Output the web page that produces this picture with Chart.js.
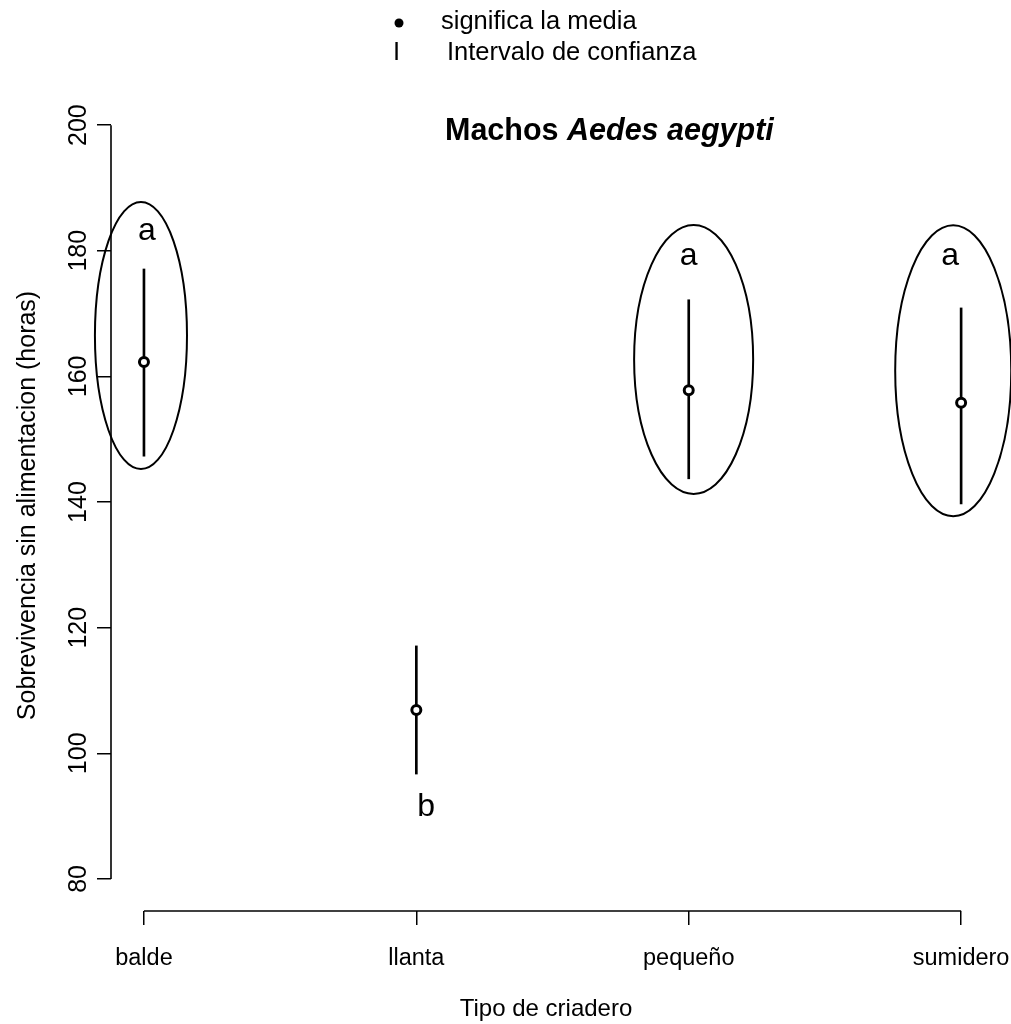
<!DOCTYPE html>
<html><head><meta charset="utf-8">
<script src="https://cdn.jsdelivr.net/npm/chart.js@4.4.1/dist/chart.umd.min.js"></script>
<style>html,body{margin:0;padding:0;background:#fff}</style>
</head><body><canvas id="c" width="1011" height="1024"></canvas>
<script>
// ---- data ----
const categories = ['balde', 'llanta', 'pequeño', 'sumidero'];
const meanValues = [162.3, 106.9, 157.8, 155.8];
const ciLower = [147.3, 96.7, 143.7, 139.7];
const ciUpper = [177.1, 117.1, 172.2, 170.9];
const yTickValues = [80, 100, 120, 140, 160, 180, 200];
// group letters (annotation), in data units
const groupLetters = ['a', 'b', 'a', 'a'];
const letterX = [1.011, 2.036, 3.0, 3.96];
const letterY = [181.7, 90.0, 177.7, 177.7];
// hand-drawn ellipses (annotation), in data units
const ellipseCX = [0.989, 3.018, 3.971];
const ellipseCY = [166.5, 162.7, 160.9];
const ellipseRX = [0.169, 0.2185, 0.213];
const ellipseRY = [21.25, 21.4, 23.16];

const FONT = '"Liberation Sans", Arial, Helvetica, sans-serif';

const decor = {
  id: 'decor',
  afterDraw(chart) {
    const { ctx, chartArea, scales: { x, y } } = chart;
    ctx.save();
    ctx.strokeStyle = '#000';
    ctx.fillStyle = '#000';
    ctx.lineWidth = 1.6;
    // y axis line (between first and last tick)
    ctx.beginPath();
    ctx.moveTo(chartArea.left, y.getPixelForValue(yTickValues[0]));
    ctx.lineTo(chartArea.left, y.getPixelForValue(yTickValues[yTickValues.length - 1]));
    ctx.stroke();
    // x axis line
    ctx.beginPath();
    ctx.moveTo(x.getPixelForValue(1), chartArea.bottom);
    ctx.lineTo(x.getPixelForValue(categories.length), chartArea.bottom);
    ctx.stroke();
    // ellipses
    ctx.lineWidth = 2;
    for (let i = 0; i < ellipseCX.length; i++) {
      const cx = x.getPixelForValue(ellipseCX[i]);
      const cy = y.getPixelForValue(ellipseCY[i]);
      const rx = Math.abs(x.getPixelForValue(ellipseCX[i] + ellipseRX[i]) - cx);
      const ry = Math.abs(y.getPixelForValue(ellipseCY[i] + ellipseRY[i]) - cy);
      ctx.beginPath();
      ctx.ellipse(cx, cy, rx, ry, 0, 0, Math.PI * 2);
      ctx.stroke();
    }
    // letters
    ctx.font = '32px ' + FONT;
    ctx.textAlign = 'center';
    ctx.textBaseline = 'alphabetic';
    for (let i = 0; i < groupLetters.length; i++) {
      ctx.fillText(groupLetters[i], x.getPixelForValue(letterX[i]), y.getPixelForValue(letterY[i]));
    }
    // title
    ctx.textAlign = 'left';
    ctx.font = 'bold 30.5px ' + FONT;
    const t1 = 'Machos ';
    ctx.fillText(t1, 445, 140);
    const w1 = ctx.measureText(t1).width;
    ctx.font = 'italic bold 30.5px ' + FONT;
    ctx.fillText('Aedes aegypti', 445 + w1, 140);
    // legend
    ctx.font = '25.5px ' + FONT;
    ctx.beginPath();
    ctx.arc(399, 23, 4.5, 0, Math.PI * 2);
    ctx.fill();
    ctx.fillText('significa la media', 441, 29);
    ctx.fillText('I', 393, 60);
    ctx.fillText('Intervalo de confianza', 447, 60);
    ctx.restore();
  }
};

new Chart(document.getElementById('c'), {
  type: 'bar',
  data: {
    datasets: [
      {
        type: 'scatter',
        label: 'media',
        data: categories.map((c, i) => ({ x: i + 1, y: meanValues[i] })),
        pointRadius: 4.5,
        pointBorderWidth: 3,
        pointBackgroundColor: '#fff',
        pointBorderColor: '#000',
        order: 0
      },
      {
        type: 'bar',
        label: 'Intervalo de confianza',
        data: categories.map((c, i) => ({ x: i + 1, y: [ciLower[i], ciUpper[i]] })),
        backgroundColor: '#000',
        borderWidth: 0,
        barThickness: 2,
        order: 1
      }
    ]
  },
  options: {
    responsive: false,
    animation: false,
    devicePixelRatio: 1,
    layout: { padding: { top: 100, right: 30, bottom: 0, left: 0 } },
    plugins: { legend: { display: false }, tooltip: { enabled: false } },
    scales: {
      x: {
        type: 'linear',
        offset: false,
        min: 0.879,
        max: 4.073,
        afterBuildTicks: s => { s.ticks = categories.map((c, i) => ({ value: i + 1 })); },
        afterFit: s => { s.height = 113; s.paddingLeft = 0; s.paddingRight = 0; },
        grid: { display: true, offset: false, drawOnChartArea: false, drawTicks: true, tickLength: 14, color: '#000', lineWidth: 1.5 },
        border: { display: false },
        ticks: {
          callback: v => categories[v - 1],
          padding: 19, autoSkip: false, maxRotation: 0,
          font: { size: 23.5, family: FONT }, color: '#000'
        },
        title: {
          display: true, text: 'Tipo de criadero',
          font: { size: 24, family: FONT }, color: '#000',
          padding: { top: 0, bottom: 0 }
        }
      },
      y: {
        min: 74.9,
        max: 204,
        afterBuildTicks: s => { s.ticks = yTickValues.map(v => ({ value: v })); },
        afterFit: s => { s.width = 111; s.paddingTop = 0; s.paddingBottom = 0; },
        grid: { display: true, drawOnChartArea: false, drawTicks: true, tickLength: 14, color: '#000', lineWidth: 1.5 },
        border: { display: false },
        ticks: {
          minRotation: 90, maxRotation: 90, crossAlign: 'center',
          padding: -3, autoSkip: false,
          font: { size: 25, family: FONT }, color: '#000'
        },
        title: {
          display: true, text: 'Sobrevivencia sin alimentacion (horas)',
          font: { size: 25, family: FONT }, color: '#000',
          padding: { top: 13, bottom: 0 }
        }
      }
    }
  },
  plugins: [decor]
});
</script>
</body></html>
